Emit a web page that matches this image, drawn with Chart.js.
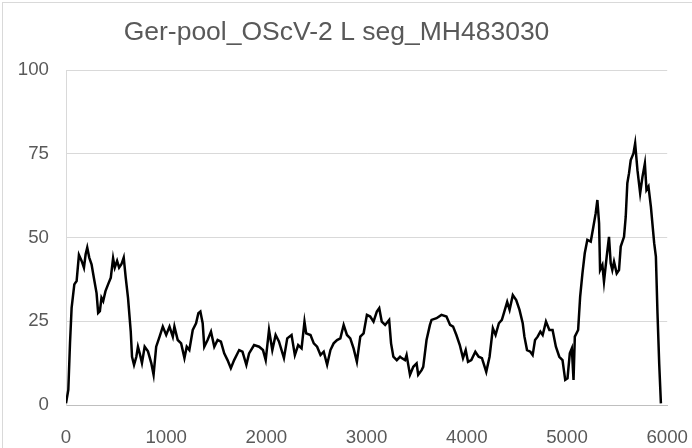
<!DOCTYPE html>
<html>
<head>
<meta charset="utf-8">
<script src="https://cdn.jsdelivr.net/npm/chart.js@4"></script>
<style>
    html, body { margin:0; padding:0; background:#fff; overflow:hidden; }
    #frame {
        position:absolute; left:2px; top:2px;
        width:689px; height:445px;
        overflow:hidden;
        border-left:1px solid #d9d9d9;
        border-top:1px solid #d9d9d9;
    }
    #chart { display:block; }
</style>
</head>
<body>
<div id="frame">
    <canvas id="chart" width="699" height="445"></canvas>
</div>
<script>
// ======================================
// DATA
// ======================================

const chartTitle = "Ger-pool_OScV-2 L seg_MH483030";

const yTicks = [0, 25, 50, 75, 100];
const xTicks = [0, 1000, 2000, 3000, 4000, 5000, 6000];

const positions = [
    0, 23, 40, 56, 83, 106, 129, 156, 179, 196, 212, 232, 255, 278, 305, 321, 338, 354, 371, 394,
    420, 447, 470, 487, 510, 530, 553, 576, 596, 619, 646, 659, 679, 702, 718, 735, 758, 785, 818, 851,
    874, 900, 934, 966, 1000, 1033, 1066, 1082, 1115, 1149, 1182, 1205, 1231, 1265, 1298, 1321, 1341, 1364, 1380, 1413,
    1447, 1480, 1513, 1546, 1579, 1612, 1645, 1678, 1728, 1761, 1800, 1827, 1877, 1927, 1966, 1993, 2026, 2059, 2092, 2125,
    2175, 2208, 2251, 2284, 2317, 2351, 2380, 2397, 2440, 2473, 2506, 2540, 2572, 2606, 2639, 2671, 2705, 2738, 2771, 2804,
    2837, 2870, 2903, 2937, 2970, 3003, 3036, 3069, 3102, 3126, 3151, 3185, 3225, 3244, 3267, 3301, 3334, 3350, 3383, 3399,
    3433, 3466, 3499, 3515, 3549, 3565, 3598, 3632, 3648, 3698, 3747, 3797, 3833, 3863, 3896, 3930, 3962, 3989, 4012, 4045,
    4085, 4118, 4151, 4194, 4227, 4260, 4287, 4320, 4350, 4370, 4403, 4427, 4459, 4493, 4526, 4558, 4575, 4601, 4634, 4657,
    4681, 4707, 4734, 4757, 4790, 4824, 4856, 4889, 4923, 4955, 4982, 5005, 5028, 5048, 5065, 5078, 5111, 5131, 5154, 5177,
    5203, 5237, 5263, 5286, 5303, 5320, 5330, 5353, 5369, 5396, 5419, 5436, 5452, 5469, 5496, 5519, 5536, 5569, 5586, 5602,
    5619, 5636, 5663, 5680, 5703, 5730, 5753, 5777, 5793, 5813, 5837, 5870, 5887, 5903, 5920, 5937
];

const values = [
    0.5, 4.5, 18.5, 29, 36, 37, 44.8, 43, 41, 45, 47, 44, 42, 38, 33.4, 27.5, 28, 32, 31, 34,
    36, 38, 43.8, 41, 43, 41, 42, 44, 38, 32, 22, 14.4, 12, 14.4, 17.4, 15.5, 12.5, 17.4, 16, 12.5,
    9, 17.4, 20.4, 23.4, 20.9, 23.4, 20.4, 23.4, 19.4, 18.4, 14, 17.4, 16.4, 22.4, 24.4, 27.4, 27.9, 24.4, 17.4, 19.4,
    21.9, 17.4, 19.4, 18.9, 15.4, 13.4, 11, 13.4, 16.4, 15.9, 12, 15.4, 17.9, 17.4, 16.4, 13.4, 22.4, 16.4, 20.9, 19,
    14, 19.9, 20.9, 14.9, 17.9, 16.9, 24.9, 21.4, 20.9, 18.4, 17.4, 14.9, 15.9, 12, 16.4, 18.4, 19.4, 19.9, 23.9, 20.9,
    19.9, 16.9, 12.9, 20.4, 21.4, 26.9, 26.4, 24.9, 27.9, 28.9, 24.9, 23.9, 25.4, 18.4, 14.4, 13.4, 14.4, 14, 13.4, 14.9,
    9, 11.4, 12.4, 9, 10.4, 11.4, 19.4, 23.9, 25.4, 25.9, 26.9, 26.4, 23.9, 23.4, 20.9, 17.9, 14, 16.4, 12.9, 13.4,
    15.9, 14.4, 14, 9.9, 14.4, 22.9, 20.9, 24.4, 25.4, 27.4, 30.8, 28.4, 32.8, 31.3, 28.4, 24.4, 20.4, 16.4, 15.9, 14.9,
    19.4, 20.4, 21.9, 20.9, 24.9, 22.4, 22.4, 17.4, 14.4, 13.4, 7.5, 8, 15.4, 16.9, 7.5, 20.4, 22.4, 32.3, 39.3, 45.3,
    49.3, 48.8, 53.2, 57.2, 61.2, 54.2, 40.3, 41.8, 36.8, 44.3, 50.2, 42.3, 40.3, 42.8, 39.3, 40.3, 47.3, 50.2, 56.2, 66.2,
    69.2, 73.1, 75.1, 78.1, 70.1, 63.2, 68.1, 72.1, 64.2, 65.2, 59.2, 48.3, 44.3, 27.4, 12.4, 0.5
];

// ======================================
// CHART
// ======================================

const FONT = "'Liberation Sans', Arial, sans-serif";
const TEXT = "#595959";

const points = positions.map((x, i) => ({ x: x, y: values[i] }));

new Chart(

    document.getElementById("chart"),

    {
        type: "scatter",

        data: {
            datasets: [{
                data: points,
                showLine: true,
                borderColor: "#000",
                borderWidth: 2.5,
                pointRadius: 0,
                tension: 0
            }]
        },

        options: {
            responsive: false,
            animation: false,
            layout: {
                padding: { left: 0, right: 32, top: 0, bottom: 0 }
            },
            plugins: {
                legend: { display: false },
                tooltip: { enabled: false },
                title: {
                    display: true,
                    text: chartTitle,
                    color: TEXT,
                    font: { family: FONT, size: 26.5, weight: "normal" },
                    padding: { top: 14, bottom: 21.2 }
                }
            },
            scales: {
                x: {
                    type: "linear",
                    min: xTicks[0],
                    max: xTicks[xTicks.length - 1],
                    afterBuildTicks: axis => {
                        axis.ticks = xTicks.map(v => ({ value: v }));
                    },
                    afterFit: axis => { axis.height = 43; },
                    grid: { display: false },
                    border: { display: true, color: "#bfbfbf", width: 1 },
                    ticks: {
                        color: TEXT,
                        font: { family: FONT, size: 18.7 },
                        padding: 14,
                        maxRotation: 0,
                        callback: v => String(v)
                    }
                },
                y: {
                    min: yTicks[0],
                    max: yTicks[yTicks.length - 1],
                    afterBuildTicks: axis => {
                        axis.ticks = yTicks.map(v => ({ value: v }));
                    },
                    afterFit: axis => { axis.width = 63; },
                    grid: {
                        color: "#d9d9d9",
                        lineWidth: 1,
                        drawTicks: false
                    },
                    border: { display: true, color: "#d9d9d9", width: 1 },
                    ticks: {
                        color: TEXT,
                        font: { family: FONT, size: 18.7 },
                        padding: 17,
                        callback: v => String(v)
                    }
                }
            }
        }
    }

);
</script>
</body>
</html>
